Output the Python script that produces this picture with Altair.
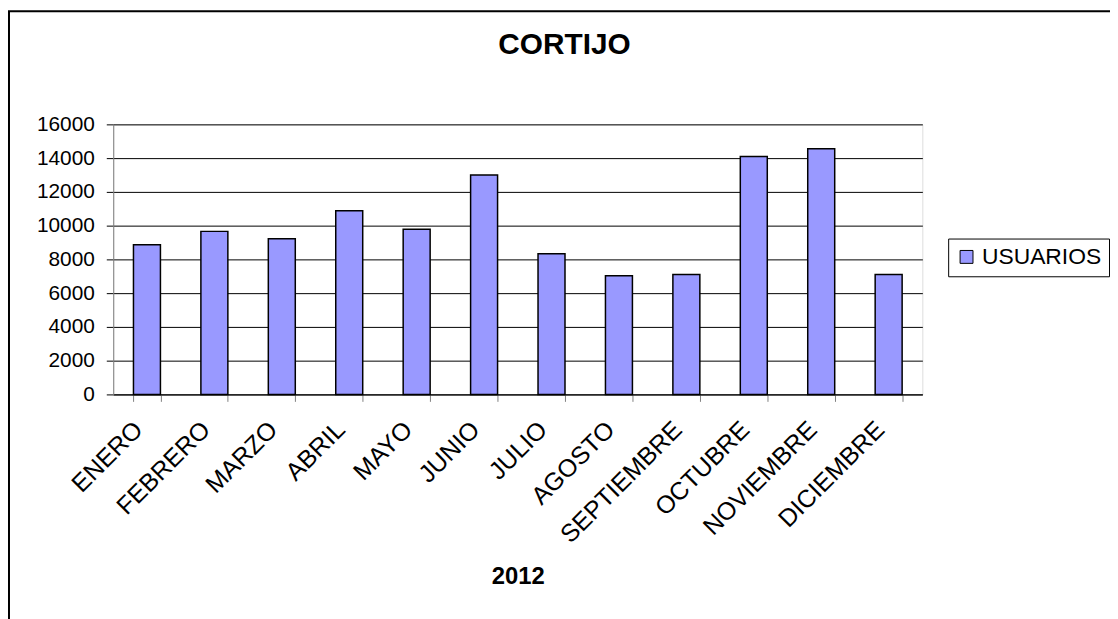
import altair as alt
import pandas as pd

months = ["ENERO", "FEBRERO", "MARZO", "ABRIL", "MAYO", "JUNIO", "JULIO",
          "AGOSTO", "SEPTIEMBRE", "OCTUBRE", "NOVIEMBRE", "DICIEMBRE"]
usuarios = [8870, 9660, 9230, 10880, 9780, 13000, 8340, 7030, 7110, 14090, 14550, 7110]
series_name = "USUARIOS"
y_ticks = [0, 2000, 4000, 6000, 8000, 10000, 12000, 14000, 16000]
chart_title = "CORTIJO"
x_title = "2012"

df = pd.DataFrame({"mes": months, "usuarios": usuarios, "serie": series_name})

FONT = "Liberation Sans"
W, H = 815, 272
PL, PT, PR, PB = 106, 115, 189, 224

bars = alt.Chart(df).mark_bar(stroke="black", strokeWidth=1.5, opacity=1).encode(
    x=alt.X(
        "mes:N", sort=months, title=x_title,
        scale=alt.Scale(paddingInner=0.6, paddingOuter=0.3),
        axis=alt.Axis(
            labelAngle=-45, labelAlign="right", labelBaseline="middle",
            labelFont=FONT, labelFontSize=25, labelColor="black",
            labelPadding=24, labelOffset=-9,
            tickBand="extent", tickSize=7, tickColor="#808080",
            domainColor="black", domainWidth=1,
            titleFont=FONT, titleFontSize=24, titleFontWeight="bold",
            titleColor="black", titleY=190, titleBaseline="alphabetic",
            grid=False,
        ),
    ),
    y=alt.Y(
        "usuarios:Q", title=None,
        scale=alt.Scale(domain=[0, 16000], nice=False),
        axis=alt.Axis(
            values=y_ticks, format="d",
            labelFont=FONT, labelFontSize=21, labelColor="black",
            labelPadding=12, tickSize=7, tickColor="black",
            domainColor="#808080", grid=True, gridColor="black",
            gridWidth=1, gridOpacity=1,
        ),
    ),
    color=alt.Color(
        "serie:N", scale=alt.Scale(range=["#9999FF"]),
        legend=alt.Legend(
            title=None, orient="none", legendX=841, legendY=115,
            strokeColor="black", fillColor="white", padding=7,
            symbolType="square", symbolSize=169, symbolStrokeColor="black",
            symbolStrokeWidth=1, symbolOpacity=1,
            labelFont=FONT, labelFontSize=23, labelColor="black", labelOffset=4,
        ),
    ),
)

frame = alt.Chart(pd.DataFrame({"k": [0]})).mark_rect(
    filled=False, stroke="black", strokeWidth=2
).encode(
    x=alt.value(-PL + 1), x2=alt.value(W + PR + 20),
    y=alt.value(-PT + 1), y2=alt.value(H + PB + 20),
)

chart = alt.layer(bars, frame).properties(
    width=W, height=H,
    title=alt.TitleParams(
        chart_title, font=FONT, fontSize=30, fontWeight="bold", color="black",
        anchor="middle", frame="group", dx=47, offset=-74, baseline="alphabetic",
    ),
    autosize=alt.AutoSizeParams(type="none"),
    padding={"left": PL, "top": PT, "right": PR, "bottom": PB},
).configure_view(
    fill="#C0C0C0", stroke="#808080", strokeWidth=1
).configure(background="white")

chart.save("out.html", embed_options={"renderer": "svg", "actions": False})
